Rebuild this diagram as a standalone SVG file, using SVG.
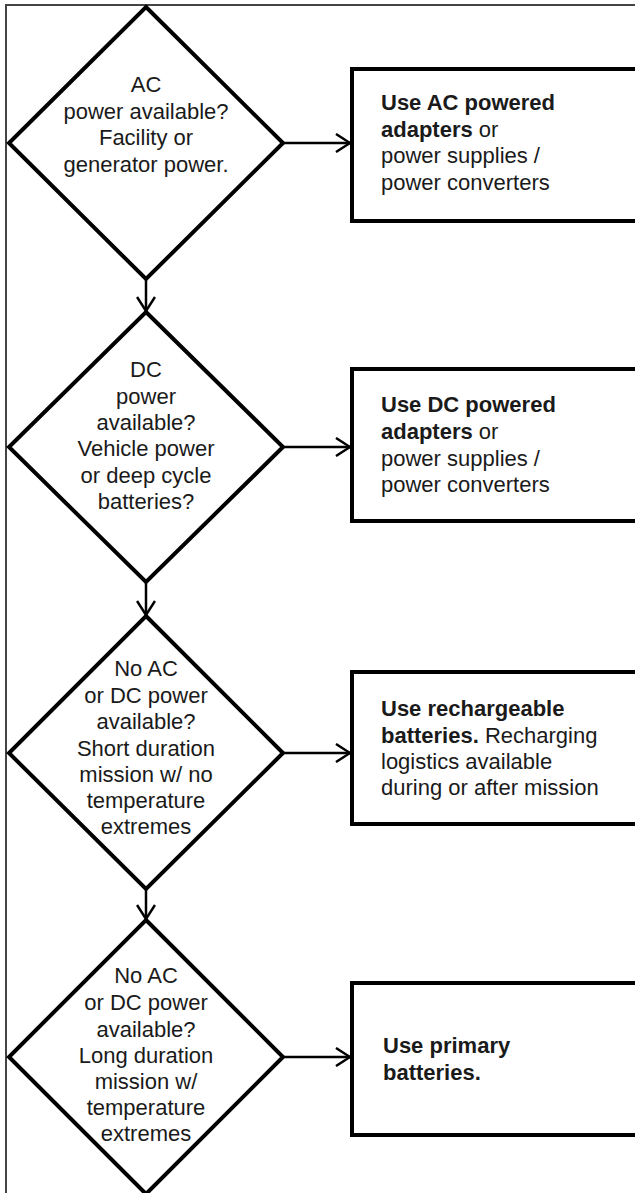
<svg xmlns="http://www.w3.org/2000/svg" width="635" height="1193" viewBox="0 0 635 1193">
<defs>
<style>
.frame{fill:none;stroke:#444;stroke-width:2}
.dia{fill:#fff;stroke:#000;stroke-width:4;stroke-linejoin:miter}
.box{fill:#fff;stroke:#000;stroke-width:4}
.con{fill:none;stroke:#000;stroke-width:2.5}
text{font-family:"Liberation Sans",Arial,sans-serif;font-size:22px;fill:#1a1a1a}
.c{text-anchor:middle}
.b{font-weight:bold}
</style>
<marker id="arr" viewBox="0 0 16 20" refX="15" refY="10" markerWidth="16" markerHeight="20" markerUnits="userSpaceOnUse" orient="auto">
<path d="M1,1 L15,10 L1,19" fill="none" stroke="#000" stroke-width="2.5"/>
</marker>
</defs>
<rect width="635" height="1193" fill="#fff"/>
<path class="frame" d="M6,1200 V5 H640"/>
<g id="connectors">
<line class="con" x1="146" y1="279" x2="146" y2="311" marker-end="url(#arr)"/>
<line class="con" x1="146" y1="582" x2="146" y2="615" marker-end="url(#arr)"/>
<line class="con" x1="146" y1="889" x2="146" y2="919" marker-end="url(#arr)"/>
<line class="con" x1="283" y1="143" x2="350" y2="143" marker-end="url(#arr)"/>
<line class="con" x1="283" y1="447" x2="350" y2="447" marker-end="url(#arr)"/>
<line class="con" x1="283" y1="753" x2="350" y2="753" marker-end="url(#arr)"/>
<line class="con" x1="283" y1="1057" x2="350" y2="1057" marker-end="url(#arr)"/>
</g>
<g id="d1">
<polygon class="dia" points="146,7 283,143 146,279 9,143"/>
<text class="c" x="146" y="92">AC</text>
<text class="c" x="146" y="119">power available?</text>
<text class="c" x="146" y="145">Facility or</text>
<text class="c" x="146" y="172">generator power.</text>
</g>
<g id="d2">
<polygon class="dia" points="146,312 283,447 146,582 9,447"/>
<text class="c" x="146" y="377">DC</text>
<text class="c" x="146" y="404">power</text>
<text class="c" x="146" y="430">available?</text>
<text class="c" x="146" y="456">Vehicle power</text>
<text class="c" x="146" y="483">or deep cycle</text>
<text class="c" x="146" y="509">batteries?</text>
</g>
<g id="d3">
<polygon class="dia" points="146,616 283,753 146,889 9,753"/>
<text class="c" x="146" y="676">No AC</text>
<text class="c" x="146" y="703">or DC power</text>
<text class="c" x="146" y="729">available?</text>
<text class="c" x="146" y="756">Short duration</text>
<text class="c" x="146" y="782">mission w/  no</text>
<text class="c" x="146" y="808">temperature</text>
<text class="c" x="146" y="834">extremes</text>
</g>
<g id="d4">
<polygon class="dia" points="146,920 283,1057 146,1194 9,1057"/>
<text class="c" x="146" y="983">No AC</text>
<text class="c" x="146" y="1010">or DC power</text>
<text class="c" x="146" y="1037">available?</text>
<text class="c" x="146" y="1063">Long duration</text>
<text class="c" x="146" y="1089">mission w/</text>
<text class="c" x="146" y="1115">temperature</text>
<text class="c" x="146" y="1141">extremes</text>
</g>
<g id="b1">
<rect class="box" x="352" y="69" width="300" height="152"/>
<text class="b" x="381" y="110">Use AC powered</text>
<text x="381" y="137"><tspan class="b">adapters</tspan> or</text>
<text x="381" y="163">power supplies /</text>
<text x="381" y="190">power converters</text>
</g>
<g id="b2">
<rect class="box" x="352" y="369" width="300" height="152"/>
<text class="b" x="381" y="412">Use DC powered</text>
<text x="381" y="439"><tspan class="b">adapters</tspan> or</text>
<text x="381" y="466">power supplies /</text>
<text x="381" y="492">power converters</text>
</g>
<g id="b3">
<rect class="box" x="352" y="672" width="300" height="152"/>
<text class="b" x="381" y="716">Use rechargeable</text>
<text x="381" y="743"><tspan class="b">batteries.</tspan> Recharging</text>
<text x="381" y="769">logistics available</text>
<text x="381" y="795">during or after mission</text>
</g>
<g id="b4">
<rect class="box" x="352" y="983" width="300" height="152"/>
<text class="b" x="383" y="1053">Use primary</text>
<text class="b" x="383" y="1080">batteries.</text>
</g>
</svg>
